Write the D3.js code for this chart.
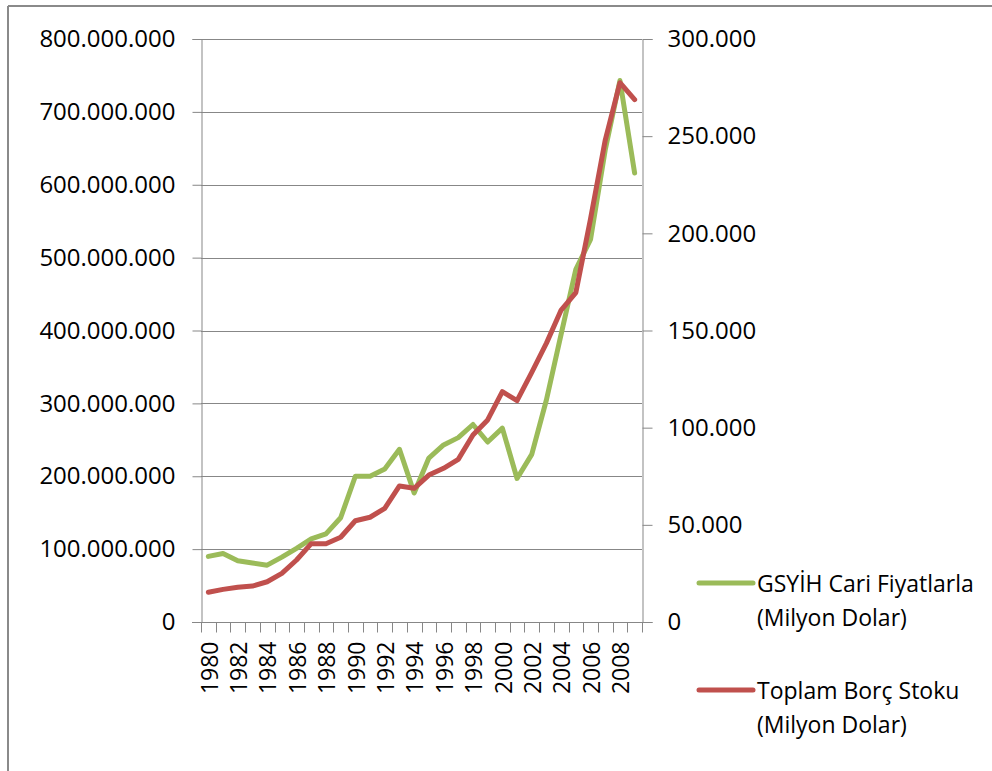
<!DOCTYPE html>
<html>
<head>
<meta charset="utf-8">
<script src="https://cdn.jsdelivr.net/npm/d3@7"></script>
<style>
  html, body { margin: 0; padding: 0; background: #fff; }
  svg { display: block; }
  text { font-family: "Open Sans", "Liberation Sans", sans-serif; fill: #000; }
</style>
</head>
<body>
<svg id="chart" width="992" height="771"></svg>
<script>
// Years on the category axis
const years = d3.range(1980, 2010);

// GDP at current prices (left axis)
const gdp = [
  90e6, 94e6, 84e6, 81e6, 78e6, 89e6, 101e6, 114e6, 121e6, 143e6,
  200e6, 200e6, 210e6, 237e6, 177e6, 225e6, 243e6, 253e6, 271e6, 247e6,
  266e6, 197e6, 230e6, 305e6, 395e6, 484e6, 525e6, 648e6, 743e6, 616e6
];

// Total external debt stock (right axis)
const debt = [
  15300, 16800, 17900, 18500, 20700, 25000, 31900, 40300, 40300, 43600,
  52100, 53900, 58500, 70000, 68800, 75600, 79100, 83700, 96200, 104000,
  118500, 113900, 128500, 143500, 160500, 169500, 207500, 248000, 277500, 268800
];

const leftTicks = d3.range(0, 800e6 + 1, 100e6);
const rightTicks = d3.range(0, 300000 + 1, 50000);
const labelledYears = years.filter(y => y % 2 === 0);

const seriesNames = [
  ["GSYİH Cari Fiyatlarla", "(Milyon Dolar)"],
  ["Toplam Borç Stoku", "(Milyon Dolar)"]
];
const seriesColors = ["#9BBB59", "#C0504D"];

const svg = d3.select("#chart");
const gridColor = "#878787";
const fmt = v => d3.format(",")(v).replace(/,/g, ".");

// Outer chart frame
svg.append("line").attr("x1", 8).attr("x2", 992).attr("y1", 6).attr("y2", 6)
  .attr("stroke", "#8a8a8a").attr("stroke-width", 2);
svg.append("line").attr("x1", 8).attr("x2", 8).attr("y1", 6).attr("y2", 771)
  .attr("stroke", "#8a8a8a").attr("stroke-width", 2);

const plot = { left: 201, right: 642, top: 39, bottom: 622 };

const x = d3.scaleBand().domain(years).range([plot.left, plot.right]);
const yL = d3.scaleLinear().domain([0, 800e6]).range([plot.bottom, plot.top]);
const yR = d3.scaleLinear().domain([0, 300000]).range([plot.bottom, plot.top]);

// Horizontal gridlines from the left axis
svg.append("g").selectAll("line").data(leftTicks).join("line")
  .attr("x1", plot.left).attr("x2", plot.right)
  .attr("y1", d => Math.round(yL(d)) + 0.5).attr("y2", d => Math.round(yL(d)) + 0.5)
  .attr("stroke", gridColor).attr("stroke-width", 1);

// Left axis
const gL = svg.append("g").attr("transform", `translate(${plot.left + 0.5},0)`)
  .call(d3.axisLeft(yL).tickValues(leftTicks).tickFormat(fmt).tickSize(9).tickPadding(17));
gL.select(".domain").attr("stroke", gridColor);
gL.selectAll(".tick line").attr("stroke", gridColor);
gL.selectAll(".tick text").attr("font-size", 24).attr("font-family", "Open Sans");

// Right axis
const gR = svg.append("g").attr("transform", `translate(${plot.right + 0.5},0)`)
  .call(d3.axisRight(yR).tickValues(rightTicks).tickFormat(fmt).tickSize(10).tickPadding(15));
gR.select(".domain").attr("stroke", gridColor);
gR.selectAll(".tick line").attr("stroke", gridColor);
gR.selectAll(".tick text").attr("font-size", 24).attr("font-family", "Open Sans");

// Bottom category axis: ticks on band boundaries, labels on even years
const gB = svg.append("g").attr("transform", `translate(0,${plot.bottom + 0.5})`);
gB.append("line").attr("x1", plot.left - 9).attr("x2", plot.right + 10)
  .attr("stroke", gridColor);
const bounds = years.map(y => x(y)).concat([x(years[years.length - 1]) + x.bandwidth()]);
gB.selectAll("line.tk").data(bounds).join("line").attr("class", "tk")
  .attr("x1", d => Math.round(d) + 0.5).attr("x2", d => Math.round(d) + 0.5)
  .attr("y1", 0).attr("y2", 10).attr("stroke", gridColor);
gB.selectAll("text").data(labelledYears).join("text")
  .attr("transform", d => `translate(${x(d) + x.bandwidth() / 2 + 1},19) rotate(-90)`)
  .attr("text-anchor", "end").attr("dy", "0.36em")
  .attr("font-size", 23)
  .text(d => d);

// Series lines
const lineL = d3.line().x((d, i) => x(years[i]) + x.bandwidth() / 2).y(d => yL(d));
const lineR = d3.line().x((d, i) => x(years[i]) + x.bandwidth() / 2).y(d => yR(d));

svg.append("path").datum(gdp).attr("d", lineL)
  .attr("fill", "none").attr("stroke", seriesColors[0]).attr("stroke-width", 5)
  .attr("stroke-linejoin", "round").attr("stroke-linecap", "round");
svg.append("path").datum(debt).attr("d", lineR)
  .attr("fill", "none").attr("stroke", seriesColors[1]).attr("stroke-width", 5)
  .attr("stroke-linejoin", "round").attr("stroke-linecap", "round");

// Legend
const legend = svg.append("g");
const legendRows = [583, 690];
seriesNames.forEach((lines, i) => {
  const yy = legendRows[i];
  legend.append("line").attr("x1", 699).attr("x2", 753).attr("y1", yy).attr("y2", yy)
    .attr("stroke", seriesColors[i]).attr("stroke-width", 5).attr("stroke-linecap", "round");
  lines.forEach((t, j) => {
    legend.append("text").attr("x", 757).attr("y", yy + 9 + j * 34)
      .attr("font-size", 23).text(t);
  });
});
</script>
</body>
</html>
